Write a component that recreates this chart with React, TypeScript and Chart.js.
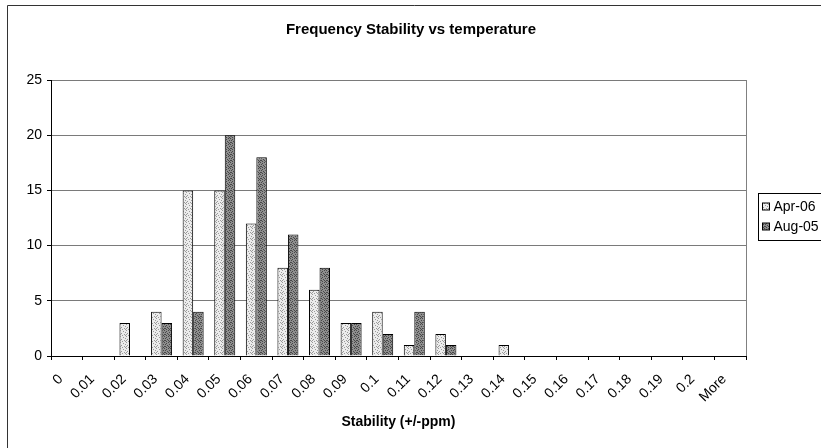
import React, { useEffect, useRef } from "react";
import { Chart, registerables } from "chart.js";

Chart.register(...registerables);

const chartTitle = "Frequency Stability vs temperature";
const xTitle = "Stability (+/-ppm)";
const categories = [
  "0", "0.01", "0.02", "0.03", "0.04", "0.05", "0.06", "0.07", "0.08", "0.09", "0.1",
  "0.11", "0.12", "0.13", "0.14", "0.15", "0.16", "0.17", "0.18", "0.19", "0.2", "More",
];
const apr06 = [0, 0, 3, 4, 15, 15, 12, 8, 6, 3, 4, 1, 2, 0, 1, 0, 0, 0, 0, 0, 0, 0];
const aug05 = [0, 0, 0, 3, 4, 20, 18, 11, 8, 3, 2, 4, 1, 0, 0, 0, 0, 0, 0, 0, 0, 0];
const yTicks = [0, 5, 10, 15, 20, 25];

const FONT = "Arial, 'Liberation Sans', sans-serif";

// Stipple layout for a 6x6 tile: scattered dots give a grainy, dotted fill
const DOTS_LIGHT = [[0, 0], [3, 1], [5, 2], [1, 3], [4, 4], [2, 5], [0, 4], [5, 5]];
const DOTS_DARK = [[0, 0], [2, 0], [4, 1], [1, 2], [3, 2], [5, 3], [0, 4], [2, 4], [4, 5], [1, 5], [3, 4]];

function stipple(base: string, dot: string, cells: number[][]): CanvasPattern | string {
  const c = document.createElement("canvas");
  c.width = 6;
  c.height = 6;
  const g = c.getContext("2d");
  if (!g) return base;
  g.fillStyle = base;
  g.fillRect(0, 0, 6, 6);
  g.fillStyle = dot;
  for (const [x, y] of cells) g.fillRect(x, y, 1, 1);
  return g.createPattern(c, "repeat") || base;
}

const framePlugin = {
  id: "frame",
  beforeDraw(chart: any) {
    const { ctx } = chart;
    ctx.save();
    ctx.fillStyle = "#ffffff";
    ctx.fillRect(0, 0, chart.width, chart.height);
    // outer chart frame (left and top edges visible)
    ctx.strokeStyle = "#333333";
    ctx.lineWidth = 1;
    ctx.beginPath();
    ctx.moveTo(7.5, chart.height);
    ctx.lineTo(7.5, 5.5);
    ctx.lineTo(chart.width, 5.5);
    ctx.stroke();
    // chart title, centred on the whole frame
    ctx.fillStyle = "#000000";
    ctx.font = `bold 15px ${FONT}`;
    ctx.textAlign = "center";
    ctx.textBaseline = "middle";
    ctx.fillText(chartTitle, 411, 30);
    ctx.restore();
  },
  afterDatasetsDraw(chart: any) {
    const { ctx, chartArea } = chart;
    ctx.save();
    // plot area right edge
    ctx.strokeStyle = "#808080";
    ctx.lineWidth = 1;
    ctx.beginPath();
    const x = Math.round(chartArea.right) + 0.5;
    ctx.moveTo(x, chartArea.top);
    ctx.lineTo(x, chartArea.bottom);
    ctx.stroke();
    ctx.restore();
  },
  afterDraw(chart: any) {
    const { ctx } = chart;
    ctx.save();
    // legend box
    const lx = 758.5;
    const ly = 193.5;
    ctx.strokeStyle = "#000000";
    ctx.lineWidth = 1;
    ctx.strokeRect(lx, ly, 80, 47);
    ctx.font = `14px ${FONT}`;
    ctx.textBaseline = "middle";
    ctx.textAlign = "left";
    chart.data.datasets.forEach((ds: any, i: number) => {
      const cy = ly + 13 + i * 20;
      ctx.fillStyle = ds.backgroundColor;
      ctx.fillRect(lx + 4, cy - 3.5, 7, 7);
      ctx.strokeStyle = "#000000";
      ctx.strokeRect(lx + 4, cy - 3.5, 7, 7);
      ctx.fillStyle = "#000000";
      ctx.fillText(ds.label, lx + 15, cy + 0.5);
    });
    ctx.restore();
  },
};

export default function App() {
  const ref = useRef<HTMLCanvasElement>(null);

  useEffect(() => {
    document.body.style.overflow = "hidden";
    const canvas = ref.current;
    if (!canvas) return;
    const aprFill = stipple("#ececec", "#9a9a9a", DOTS_LIGHT);
    const augFill = stipple("#8e8e8e", "#484848", DOTS_DARK);

    const chart = new Chart(canvas, {
      type: "bar",
      data: {
        labels: categories,
        datasets: [
          {
            label: "Apr-06",
            data: apr06,
            backgroundColor: aprFill as any,
            borderColor: "#000000",
            borderWidth: 1,
            categoryPercentage: 0.665,
            barPercentage: 1,
          },
          {
            label: "Aug-05",
            data: aug05,
            backgroundColor: augFill as any,
            borderColor: "#000000",
            borderWidth: 1,
            categoryPercentage: 0.665,
            barPercentage: 1,
          },
        ],
      },
      options: {
        responsive: false,
        animation: false,
        devicePixelRatio: 1,
        layout: { padding: { left: 1, right: 75, top: 80, bottom: 0 } },
        plugins: {
          legend: { display: false },
          tooltip: { enabled: false },
          title: { display: false },
        },
        scales: {
          x: {
            grid: {
              offset: true,
              drawOnChartArea: false,
              drawTicks: true,
              tickLength: 4,
              color: "#000000",
            },
            border: { color: "#000000", width: 1 },
            ticks: {
              color: "#000000",
              font: { family: FONT, size: 14 },
              minRotation: 45,
              maxRotation: 45,
              autoSkip: false,
              padding: 11,
              labelOffset: -6,
            },
            title: {
              display: true,
              text: xTitle,
              color: "#000000",
              font: { family: FONT, size: 14, weight: "bold" },
              padding: { top: 0, bottom: 17 },
            },
            afterFit(scale: any) {
              scale.height = 92;
            },
          },
          y: {
            min: 0,
            max: 25,
            afterBuildTicks(scale: any) {
              scale.ticks = yTicks.map((v) => ({ value: v }));
            },
            grid: {
              color: "#7a7a7a",
              tickLength: 4,
              tickColor: "#000000",
            },
            border: { color: "#000000", width: 1 },
            ticks: {
              color: "#000000",
              font: { family: FONT, size: 14 },
              padding: 5,
            },
            afterFit(scale: any) {
              scale.width = 50;
            },
          },
        },
      },
      plugins: [framePlugin],
    });
    return () => chart.destroy();
  }, []);

  return (
    <div style={{ position: "fixed", left: 0, top: 0, width: 821, height: 448 }}>
      <canvas ref={ref} width={821} height={448} style={{ display: "block" }} />
    </div>
  );
}
